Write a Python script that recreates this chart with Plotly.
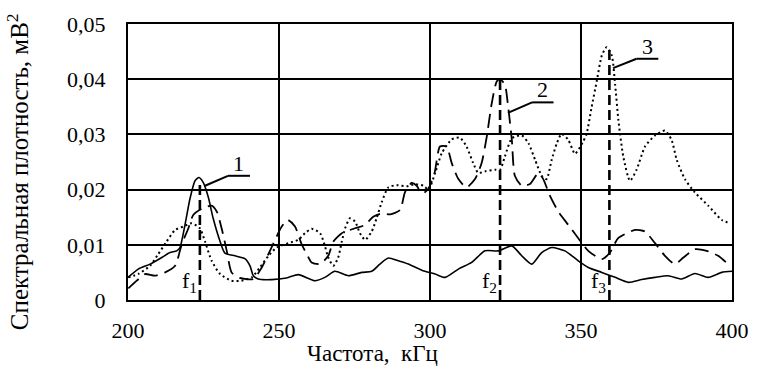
import plotly.graph_objects as go

# ---- data ----
x1 = [200, 203.4, 207.3, 211.2, 213.9, 216.1, 217.2, 218.9, 220.5, 222.2, 223.5, 224.9, 226.6, 228.2, 230.5,
      232.1, 235.4, 238.7, 240.4, 241.5, 243.1, 247.6, 252.5, 256.4, 261.9, 265.2, 268.5, 273, 277.4, 280.7,
      283.4, 286.2, 289.5, 292.8, 297.3, 301.7, 305, 309.4, 313.8, 318.2, 322.6, 327.1, 330.4, 333.7, 337,
      340.3, 344.7, 349.1, 352.4, 356.9, 361.3, 365.7, 370.1, 374.5, 378.9, 383.3, 387.7, 392.1, 396.6, 400]
y1 = [.0041, .0056, .0065, .0077, .0086, .0089, .0095, .0137, .0183, .0216, .0222, .0213, .0186, .0148, .0106,
      .0085, .0080, .0075, .0062, .0044, .0038, .0037, .0040, .0046, .0035, .0041, .0052, .0044, .0050, .0052,
      .0065, .0076, .0071, .0065, .0054, .0047, .0041, .0056, .0068, .0089, .0089, .0098, .0080, .0065, .0086,
      .0095, .0089, .0071, .0059, .0050, .0041, .0032, .0037, .0041, .0044, .0038, .0048, .0041, .0050, .0052]

x2 = [200.1, 202.9, 205.6, 208.9, 212.3, 215.6, 217.8, 220, 221.6, 224.4, 227.7, 229.4, 231, 232.7, 234.3,
      237, 241.5, 244.3, 247, 249.2, 250.9, 252.9, 255.3, 257.5, 259.2, 260.8, 263.6, 266.3, 268, 270.8,
      275.2, 278.5, 281.2, 284, 286.8, 290.1, 291.7, 293.9, 295.6, 297.3, 299.4, 301.5, 303.3, 305.5, 307.2,
      309.4, 312.1, 314.9, 317.1, 318.8, 320.4, 322.1, 323.2, 324.8, 325.9, 327.1, 328.1, 330.4, 333.1, 335.9,
      337.5, 339.7, 342.5, 345.8, 349.1, 352.4, 356.9, 359.6, 362.3, 367.9, 371.2, 374.5, 377.8, 381.1, 383.9,
      387.7, 391.6, 395.4, 399.3]
y2 = [.0021, .0035, .0047, .0044, .0050, .0062, .0101, .0130, .0154, .0165, .0171, .0160, .0130, .0089, .0050,
      .0040, .0038, .0059, .0089, .0115, .0133, .0145, .0133, .0101, .0083, .0068, .0065, .0080, .0106, .0121,
      .0130, .0136, .0151, .0157, .0155, .0163, .0195, .0212, .0207, .0192, .0201, .0230, .0278, .0278, .0248,
      .0219, .0204, .0219, .0248, .0296, .0355, .0396, .0400, .0390, .0349, .0290, .0225, .0207, .0210, .0230,
      .0219, .0189, .0160, .0136, .0112, .0089, .0074, .0086, .0112, .0127, .0124, .0103, .0080, .0065, .0077,
      .0092, .0089, .0080, .0062]

x3 = [200.1, 203.4, 207.3, 210, 212.8, 215.6, 218.3, 221.1, 223.8, 225.5, 227.7, 230.5, 234.3, 237.6, 241,
      243.7, 246.5, 249.2, 253.1, 256.4, 258.6, 260.8, 263.6, 265.2, 266.3, 268, 269.6, 270.8, 271.9, 273.5,
      275.2, 276.8, 278.5, 280.7, 282.3, 284, 286.2, 289, 292.3, 295, 297.8, 299.5, 301.7, 303.9, 307.2,
      309.9, 312.1, 314.3, 316, 318.2, 321.5, 323.2, 324.8, 327.1, 330.4, 332.6, 334.8, 337, 338.6, 340.3,
      342, 343.6, 345.8, 348, 350.5, 351.8, 353.5, 355.2, 356.9, 358.5, 360.2, 361.3, 362.4, 364, 366.2,
      368.4, 371.2, 374.5, 377.8, 380, 381.7, 384.4, 387.7, 392.1, 396.6, 399.3]
y3 = [.0041, .0047, .0062, .0083, .0106, .0127, .0133, .0139, .0130, .0106, .0071, .0047, .0035, .0035, .0041,
      .0059, .0080, .0095, .0103, .0109, .0121, .0129, .0121, .0098, .0077, .0062, .0077, .0106, .0130, .0148,
      .0142, .0121, .0109, .0124, .0148, .0177, .0204, .0208, .0206, .0210, .0207, .0200, .0230, .0266, .0291,
      .0294, .0278, .0248, .0230, .0233, .0236, .0236, .0260, .0293, .0298, .0284, .0254, .0225, .0219, .0254,
      .0284, .0301, .0290, .0265, .0285, .0300, .0349, .0396, .0443, .0458, .0443, .0390, .0325, .0260, .0216,
      .0236, .0278, .0298, .0307, .0290, .0254, .0219, .0195, .0171, .0145, .0139]

f_freq = [223.8, 323.2, 359.4]
f_peak = [0.0216, 0.0400, 0.0460]
f_names = ["f<sub>1</sub>", "f<sub>2</sub>", "f<sub>3</sub>"]

x_ticks = [200, 250, 300, 350, 400]
y_ticks = [0, 0.01, 0.02, 0.03, 0.04, 0.05]
y_tick_text = ["0", "0,01", "0,02", "0,03", "0,04", "0,05"]

FONT = "Liberation Serif, Times New Roman, serif"

fig = go.Figure()
fig.add_trace(go.Scatter(x=x1, y=y1, mode="lines", line=dict(color="black", width=1.6, shape="spline", smoothing=0.6)))
fig.add_trace(go.Scatter(x=x2, y=y2, mode="lines", line=dict(color="black", width=1.8, dash="14px,7px", shape="spline", smoothing=0.6)))
fig.add_trace(go.Scatter(x=x3, y=y3, mode="lines", line=dict(color="black", width=2, dash="2px,3px", shape="spline", smoothing=0.6)))

for fx, fp, fn in zip(f_freq, f_peak, f_names):
    fig.add_trace(go.Scatter(x=[fx, fx], y=[0, fp], mode="lines",
                             line=dict(color="black", width=2.6, dash="10px,5px")))
    fig.add_annotation(x=fx, y=0.0003, text=fn, showarrow=False, xanchor="right", yanchor="bottom",
                       xshift=-1, font=dict(family=FONT, size=22, color="black"))

# curve labels with leaders: (start x, start y, end x, underline end x, y, text)
labels = [(225.5, 0.0207, 233.1, 240.4, 0.0225, "1"),
          (325.8, 0.0339, 333.8, 340.9, 0.0358, "2"),
          (360.6, 0.0420, 368.4, 375.6, 0.0437, "3")]
for sx, sy, ex, ux, uy, t in labels:
    fig.add_shape(type="line", x0=sx, y0=sy, x1=ex, y1=uy, line=dict(color="black", width=2))
    fig.add_shape(type="line", x0=ex, y0=uy, x1=ux, y1=uy, line=dict(color="black", width=2))
    fig.add_annotation(x=(ex + ux) / 2, y=uy, text=t, showarrow=False, yanchor="bottom", yshift=-2,
                       font=dict(family=FONT, size=22, color="black"))

fig.add_annotation(x=0.405, xref="paper", y=-0.195, yref="paper", text="Частота,  кГц", showarrow=False,
                   yanchor="middle", font=dict(family=FONT, size=23, color="black"))
fig.add_annotation(x=-0.183, xref="paper", y=0.465, yref="paper", text="Спектральная плотность, мВ<sup>2</sup>",
                   showarrow=False, textangle=-90, xanchor="center", yanchor="middle",
                   font=dict(family=FONT, size=25, color="black"))

fig.update_layout(
    width=776, height=369,
    margin=dict(l=128, r=44, t=18, b=69),
    paper_bgcolor="white", plot_bgcolor="white",
    showlegend=False,
    font=dict(family=FONT, size=22, color="black"),
)
fig.update_xaxes(range=[200, 400], tickvals=x_ticks, ticktext=[str(v) for v in x_ticks],
                 showgrid=True, gridcolor="black", gridwidth=1.5, zeroline=False,
                 showline=True, linecolor="black", linewidth=2, mirror=True,
                 ticks="", ticklabelstandoff=10, tickfont=dict(family=FONT, size=22))
fig.update_yaxes(range=[0, 0.05], tickvals=y_ticks, ticktext=y_tick_text,
                 showgrid=True, gridcolor="black", gridwidth=1.5, zeroline=False,
                 showline=True, linecolor="black", linewidth=2, mirror=True,
                 ticks="", ticklabelstandoff=16, tickfont=dict(family=FONT, size=22))

fig.write_html("out.html", config={"displayModeBar": False},
               post_script="document.body.style.margin='0';document.body.style.overflow='hidden';")
